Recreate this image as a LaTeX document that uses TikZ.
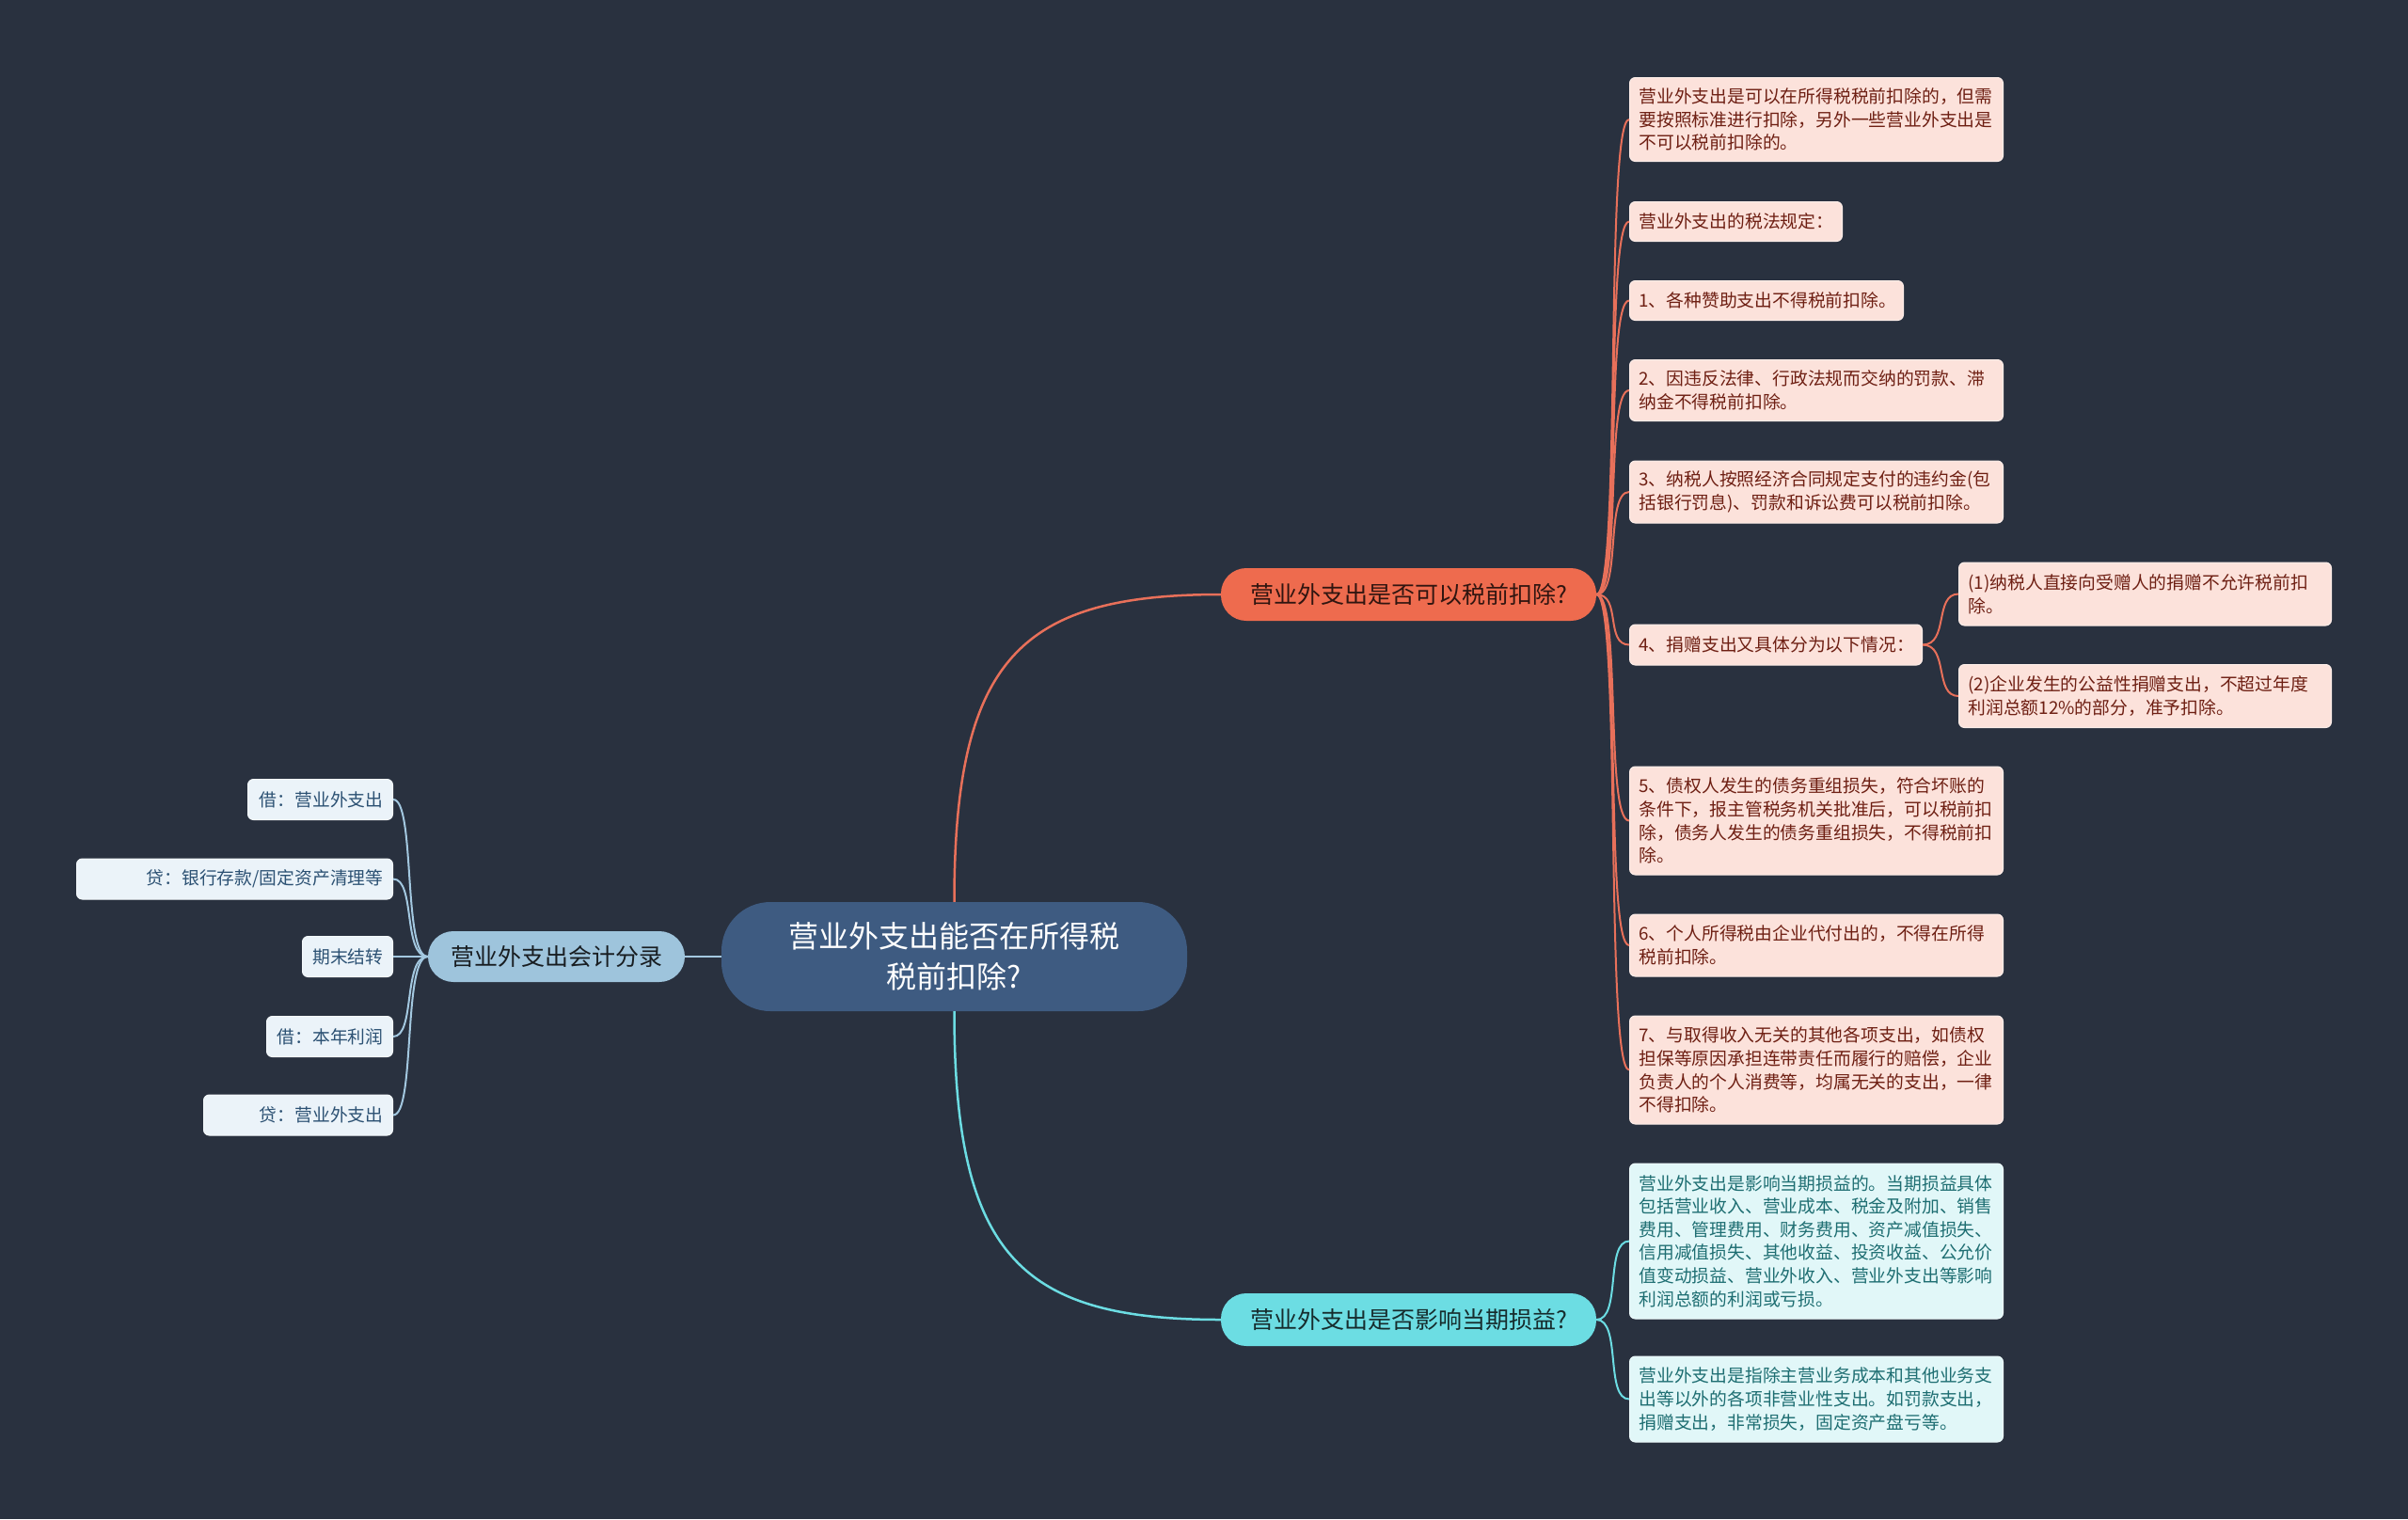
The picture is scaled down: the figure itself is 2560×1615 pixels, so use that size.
\documentclass[tikz,border=0pt]{standalone}
\usepackage{fontspec}
\setmainfont{Noto Sans CJK SC}
\definecolor{bg}{HTML}{29313F}
\definecolor{cfill}{HTML}{3E5B81}
\definecolor{lnfill}{HTML}{9EC4DC}
\definecolor{lline}{HTML}{A3C8E0}
\definecolor{lleaffill}{HTML}{EBF3F9}
\definecolor{lleaftext}{HTML}{2C5173}
\definecolor{ofill}{HTML}{EE6B4E}
\definecolor{oline}{HTML}{E8705A}
\definecolor{oleaffill}{HTML}{FCE2DB}
\definecolor{oleaftext}{HTML}{6E1F13}
\definecolor{cyfill}{HTML}{6CDDE3}
\definecolor{cyline}{HTML}{6CDDE3}
\definecolor{cyleaffill}{HTML}{E1F7F8}
\definecolor{cyleaftext}{HTML}{1E6E72}
\begin{document}
\begin{tikzpicture}[x=1pt,y=-1pt,
  leafbase/.style={inner xsep=10pt, inner ysep=0pt, rounded corners=6pt,
    font=\fontsize{18.8}{24.6}\selectfont, align=left, line width=1pt},
  oleaf/.style={leafbase, fill=oleaffill, draw=oleaffill!60!white, text=oleaftext, anchor=west},
  cleaf/.style={leafbase, fill=cyleaffill, draw=cyleaffill!60!white, text=cyleaftext, anchor=west},
  lleaf/.style={leafbase, fill=lleaffill, draw=lleaffill!60!white, text=lleaftext, anchor=east, align=right},
  branch/.style={inner sep=0pt, rounded corners=27pt, font=\fontsize{25}{30}\selectfont},
  ocon/.style={draw=oline, line width=2.5pt},
  ccon/.style={draw=cyline, line width=2.5pt},
  lcon/.style={draw=lline, line width=2.5pt}
]
\useasboundingbox (0,0) rectangle (2560,1615);
\fill[bg] (0,0) rectangle (2560,1615);

% central
\node[fill=cfill, text=white, rounded corners=52pt, minimum width=495pt, minimum height=116pt,
  inner sep=0pt, align=center, font=\fontsize{32}{43}\selectfont] (c) at (1014.5,1017)
  {营业外支出能否在所得税\\税前扣除?};

% left branch
\node[branch, fill=lnfill, text=black!85!lnfill, minimum width=273pt, minimum height=54pt] (ln) at (591.5,1017) {营业外支出会计分录};
\node[lleaf, text width=134pt, minimum height=43pt] (l1) at (418,850) {借：营业外支出};
\node[lleaf, text width=316pt, minimum height=43pt] (l2) at (418,934.5) {贷：银行存款/固定资产清理等};
\node[lleaf, text width=76pt, minimum height=43pt] (l3) at (418,1017) {期末结转};
\node[lleaf, text width=114pt, minimum height=43pt] (l4) at (418,1102) {借：本年利润};
\node[lleaf, text width=181pt, minimum height=43pt] (l5) at (418,1185.5) {贷：营业外支出};

% orange branch
\node[branch, fill=ofill, text=black!80!ofill, minimum width=399pt, minimum height=56pt] (on) at (1497.5,632) {营业外支出是否可以税前扣除?};
\node[oleaf, text width=377pt, minimum height=89pt] (o1) at (1732,127) {营业外支出是可以在所得税税前扣除的，但需\\要按照标准进行扣除，另外一些营业外支出是\\不可以税前扣除的。};
\node[oleaf, text width=206pt, minimum height=42pt] (o2) at (1732,235.5) {营业外支出的税法规定：};
\node[oleaf, text width=271pt, minimum height=42pt] (o3) at (1732,319.5) {1、各种赞助支出不得税前扣除。};
\node[oleaf, text width=377pt, minimum height=65pt] (o4) at (1732,415) {2、因违反法律、行政法规而交纳的罚款、滞\\纳金不得税前扣除。};
\node[oleaf, text width=377pt, minimum height=66pt] (o5) at (1732,523) {3、纳税人按照经济合同规定支付的违约金(包\\括银行罚息)、罚款和诉讼费可以税前扣除。};
\node[oleaf, text width=291pt, minimum height=43pt] (o6) at (1732,685.5) {4、捐赠支出又具体分为以下情况：};
\node[oleaf, text width=376pt, minimum height=67pt] (s1) at (2082,631.5) {(1)纳税人直接向受赠人的捐赠不允许税前扣\\除。};
\node[oleaf, text width=376pt, minimum height=67pt] (s2) at (2082,740) {(2)企业发生的公益性捐赠支出，不超过年度\\利润总额12\%的部分，准予扣除。};
\node[oleaf, text width=377pt, minimum height=115pt] (o7) at (1732,872.5) {5、债权人发生的债务重组损失，符合坏账的\\条件下，报主管税务机关批准后，可以税前扣\\除，债务人发生的债务重组损失，不得税前扣\\除。};
\node[oleaf, text width=377pt, minimum height=66pt] (o8) at (1732,1005) {6、个人所得税由企业代付出的，不得在所得\\税前扣除。};
\node[oleaf, text width=377pt, minimum height=115pt] (o9) at (1732,1137.5) {7、与取得收入无关的其他各项支出，如债权\\担保等原因承担连带责任而履行的赔偿，企业\\负责人的个人消费等，均属无关的支出，一律\\不得扣除。};

% cyan branch
\node[branch, fill=cyfill, text=black!80!cyfill, minimum width=399pt, minimum height=56pt] (cn) at (1497.5,1403) {营业外支出是否影响当期损益?};
\node[cleaf, text width=377pt, minimum height=165pt] (k1) at (1732,1319.5) {营业外支出是影响当期损益的。当期损益具体\\包括营业收入、营业成本、税金及附加、销售\\费用、管理费用、财务费用、资产减值损失、\\信用减值损失、其他收益、投资收益、公允价\\值变动损益、营业外收入、营业外支出等影响\\利润总额的利润或亏损。};
\node[cleaf, text width=377pt, minimum height=91pt] (k2) at (1732,1487.5) {营业外支出是指除主营业务成本和其他业务支\\出等以外的各项非营业性支出。如罚款支出，\\捐赠支出，非常损失，固定资产盘亏等。};

% main connectors
\draw[ocon] (c.north) .. controls (1014.5,700) and (1085,632) .. (on.west);
\draw[ccon] (c.south) .. controls (1014.5,1335) and (1085,1403) .. (cn.west);
\draw[lcon] (c.west) -- (ln.east);

% left leaves
\foreach \n in {l1,l2,l3,l4,l5}{
  \draw[lcon, line width=2pt] (ln.west) .. controls (428,1017) and (442,1017 |- \n.east) .. (\n.east);
}
% orange leaves
\foreach \n in {o1,o2,o3,o4,o5,o6,o7,o8,o9}{
  \draw[ocon, line width=2pt] (on.east) .. controls (1724,632) and (1706,632 |- \n.west) .. (\n.west);
}
\foreach \n in {s1,s2}{
  \draw[ocon, line width=2pt] (o6.east) .. controls (2072,685.5) and (2056,685.5 |- \n.west) .. (\n.west);
}
% cyan leaves
\foreach \n in {k1,k2}{
  \draw[ccon, line width=2pt] (cn.east) .. controls (1724,1403) and (1706,1403 |- \n.west) .. (\n.west);
}
\end{tikzpicture}
\end{document}
